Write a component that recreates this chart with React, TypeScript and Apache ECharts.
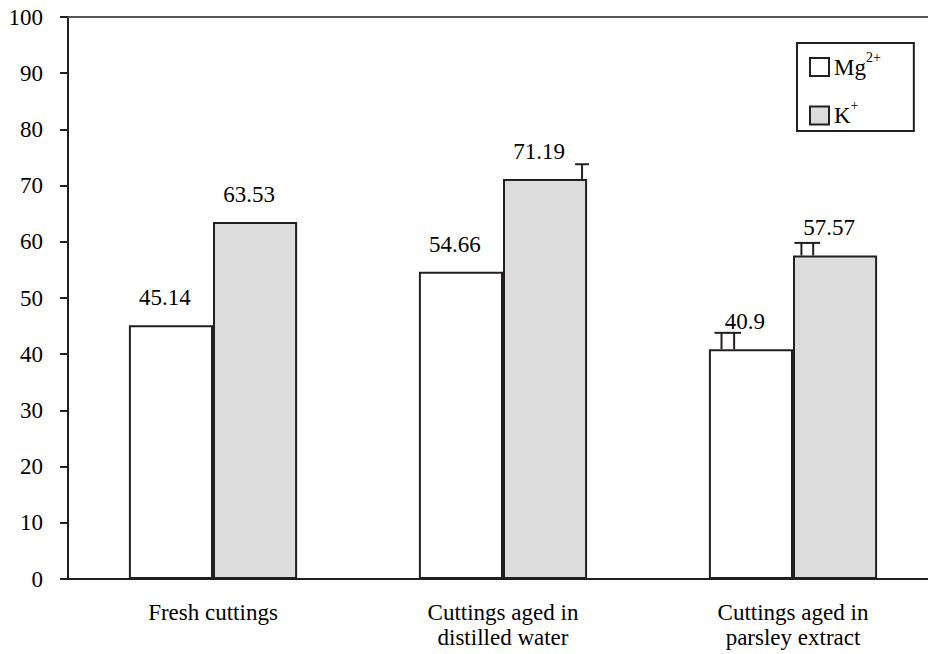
import React, { useEffect, useRef } from "react";
import * as echarts from "echarts";

const categories = [
  "Fresh cuttings",
  "Cuttings aged in\ndistilled water",
  "Cuttings aged in\nparsley extract",
];
const mgValues = [45.14, 54.66, 40.9];
const kValues = [63.53, 71.19, 57.57];
// upper end of the error bars (null = none drawn)
const mgErrTop: (number | null)[] = [null, null, 43.8];
const kErrTop: (number | null)[] = [null, 73.8, 59.8];
const yTicks = { min: 0, max: 100, interval: 10 };

const FONT = "Liberation Serif";
const FS = 23;
const INK = "#231f20";
const CAT_GAP = 0.42;
// where the little "T" marks sit across a bar (fraction of bar width)
const stemFractions: Record<string, number[]> = {
  "0-2": [0.15, 0.3],
  "1-1": [0.94],
  "1-2": [0.1, 0.24],
};

export default function App() {
  const ref = useRef<HTMLDivElement>(null);
  useEffect(() => {
    if (!ref.current) return;
    const chart = echarts.init(ref.current, null, { renderer: "svg" });

    const errData: number[][] = [];
    [mgErrTop, kErrTop].forEach((arr, s) => {
      const vals = s === 0 ? mgValues : kValues;
      arr.forEach((t, i) => {
        if (t != null) errData.push([i, t, vals[i], s]);
      });
    });

    const legendRich = {
      b: { fontSize: FS, lineHeight: 34, fontFamily: FONT, color: "#000" },
      s: { fontSize: 14, lineHeight: 14, verticalAlign: "top", fontFamily: FONT, color: "#000" },
    };

    const barLabel = {
      show: true,
      position: "top",
      distance: 16,
      offset: [-6, 0],
      fontFamily: FONT,
      fontSize: FS,
      color: "#000",
    };

    chart.setOption({
      animation: false,
      backgroundColor: "#fff",
      textStyle: { fontFamily: FONT },
      grid: { left: 68, top: 17, right: 0, height: 562, containLabel: false },
      legend: {
        orient: "vertical",
        left: 797,
        top: 43,
        padding: [7, 33, 4, 12],
        itemWidth: 19,
        itemHeight: 18,
        itemGap: 20,
        borderColor: INK,
        borderWidth: 2,
        icon: "rect",
        data: ["Mg2+", "K+"],
        formatter: (name: string) =>
          name === "Mg2+" ? "{b|Mg}{s|2+}" : "{b|K}{s|+}",
        textStyle: { fontFamily: FONT, fontSize: FS, color: "#000", rich: legendRich },
      },
      xAxis: {
        type: "category",
        data: categories,
        axisLine: { lineStyle: { color: INK, width: 2 } },
        axisTick: { show: false },
        axisLabel: {
          fontFamily: FONT,
          fontSize: FS,
          lineHeight: 25,
          color: "#000",
          margin: 21,
          interval: 0,
        },
      },
      yAxis: {
        type: "value",
        min: yTicks.min,
        max: yTicks.max,
        interval: yTicks.interval,
        axisLine: { show: true, lineStyle: { color: INK, width: 2 } },
        axisTick: { show: true, length: 8, lineStyle: { color: INK, width: 2 } },
        splitLine: { show: false },
        axisLabel: { fontFamily: FONT, fontSize: FS, color: "#000", margin: 25 },
      },
      series: [
        {
          name: "Mg2+",
          type: "bar",
          data: mgValues,
          barGap: "0%",
          barCategoryGap: CAT_GAP * 100 + "%",
          itemStyle: { color: "#ffffff", borderColor: INK, borderWidth: 2 },
          label: barLabel,
          markLine: {
            silent: true,
            symbol: "none",
            label: { show: false },
            lineStyle: { color: "#555", width: 2, type: "solid" },
            data: [{ yAxis: yTicks.max }],
          },
        },
        {
          name: "K+",
          type: "bar",
          data: kValues,
          barGap: "0%",
          barCategoryGap: CAT_GAP * 100 + "%",
          itemStyle: { color: "#dcdcdc", borderColor: INK, borderWidth: 2 },
          label: barLabel,
        },
        {
          name: "err",
          type: "custom",
          z: 5,
          data: errData,
          renderItem: (params: any, api: any) => {
            const cat = api.value(0);
            const s = api.value(3);
            const top = api.coord([cat, api.value(1)]);
            const base = api.coord([cat, api.value(2)]);
            const catW = api.size([1, 0])[0];
            const barW = (catW * (1 - CAT_GAP)) / 2;
            const left = top[0] - barW + s * barW;
            const fr = stemFractions[s + "-" + cat] || [0.5];
            const children: any[] = [];
            fr.forEach((f) => {
              const x = left + f * barW;
              children.push({
                type: "line",
                shape: { x1: x - 7, y1: top[1], x2: x + 7, y2: top[1] },
                style: { stroke: INK, lineWidth: 2 },
              });
              children.push({
                type: "line",
                shape: { x1: x, y1: top[1], x2: x, y2: base[1] },
                style: { stroke: INK, lineWidth: 2 },
              });
            });
            return { type: "group", children };
          },
        },
      ],
    });
    return () => chart.dispose();
  }, []);
  return (
    <div
      style={{
        position: "fixed",
        left: 0,
        top: 0,
        width: 928,
        height: 654,
        overflow: "hidden",
        background: "#fff",
      }}
    >
      <div ref={ref} style={{ width: 938, height: 654 }} />
    </div>
  );
}
